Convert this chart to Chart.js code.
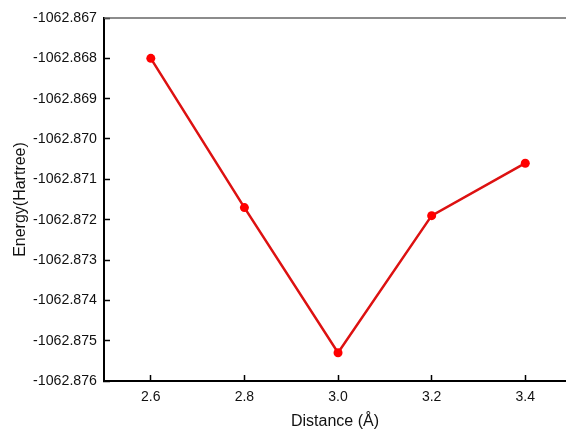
<!DOCTYPE html>
<html>
<head>
<meta charset="utf-8">
<script src="https://cdn.jsdelivr.net/npm/chart.js@4"></script>
<style>
  html, body { margin: 0; padding: 0; background: #fff; overflow: hidden; }
  #wrap { width: 566px; height: 433px; }
</style>
</head>
<body>
<div id="wrap"><canvas id="energyChart"></canvas></div>
<script>
// Data
const distances = [2.6, 2.8, 3.0, 3.2, 3.4];
const energies = [-1062.8680, -1062.8717, -1062.8753, -1062.8719, -1062.8706];
const xTicks = [2.6, 2.8, 3.0, 3.2, 3.4];
const yTicks = [-1062.876, -1062.875, -1062.874, -1062.873, -1062.872,
                -1062.871, -1062.870, -1062.869, -1062.868, -1062.867];

const fontFamily = '"Liberation Sans", Arial, sans-serif';

// thin grey frame line along the top of the plot area
const topFrame = {
    id: 'topFrame',
    afterDraw(chart) {
        const { ctx, chartArea } = chart;
        ctx.save();
        ctx.strokeStyle = '#666';
        ctx.lineWidth = 1.5;
        ctx.beginPath();
        ctx.moveTo(chartArea.left, chartArea.top);
        ctx.lineTo(chartArea.right, chartArea.top);
        ctx.stroke();
        ctx.restore();
    }
};

// drop the automatic label padding so layout.padding decides the plot box
function clearPadding(scale) {
    scale.paddingTop = 0;
    scale.paddingBottom = 0;
    scale.paddingLeft = 0;
    scale.paddingRight = 0;
}

function initializeChart() {
    const ctx = document.getElementById('energyChart').getContext('2d');

    return new Chart(ctx, {
        type: 'line',
        data: {
            datasets: [{
                label: 'Energy',
                data: distances.map((d, i) => ({ x: d, y: energies[i] })),
                borderColor: '#dd1111',
                backgroundColor: '#ff0000',
                borderWidth: 2.5,
                pointRadius: 4.5,
                pointBorderWidth: 0,
                fill: false,
                tension: 0,
            }]
        },
        options: {
            responsive: true,
            maintainAspectRatio: false,
            animation: false,
            layout: { autoPadding: false, padding: { left: 0, top: 18, right: 0, bottom: 0 } },
            plugins: {
                legend: { display: false },
                tooltip: { enabled: false },
            },
            scales: {
                x: {
                    type: 'linear',
                    min: 2.5,
                    max: 3.487,
                    afterBuildTicks: scale => { scale.ticks = xTicks.map(v => ({ value: v })); },
                    afterFit: scale => { scale.height = 52; clearPadding(scale); },
                    border: { color: '#000', width: 2 },
                    grid: { drawOnChartArea: false, tickLength: -6, tickWidth: 1.5, tickColor: '#000' },
                    ticks: {
                        padding: 14,
                        color: '#111',
                        font: { family: fontFamily, size: 14 },
                        callback: v => v.toFixed(1),
                    },
                    title: {
                        display: true,
                        text: 'Distance (Å)',
                        color: '#111',
                        font: { family: fontFamily, size: 16 },
                        padding: { top: 4, bottom: 1.5 },
                    },
                },
                y: {
                    type: 'linear',
                    min: -1062.876,
                    max: -1062.867,
                    afterBuildTicks: scale => { scale.ticks = yTicks.map(v => ({ value: v })); },
                    afterFit: scale => { scale.width = 104; clearPadding(scale); },
                    border: { color: '#000', width: 2 },
                    grid: { drawOnChartArea: false, tickLength: -6, tickWidth: 1.5, tickColor: '#000' },
                    ticks: {
                        padding: 13,
                        color: '#111',
                        font: { family: fontFamily, size: 14.2 },
                        callback: v => v.toFixed(3),
                    },
                    title: {
                        display: true,
                        text: 'Energy(Hartree)',
                        color: '#111',
                        font: { family: fontFamily, size: 16 },
                        padding: { top: 10.5, bottom: 4 },
                    },
                },
            },
        },
        plugins: [topFrame],
    });
}

document.addEventListener('DOMContentLoaded', function () {
    initializeChart();
});
</script>
</body>
</html>
